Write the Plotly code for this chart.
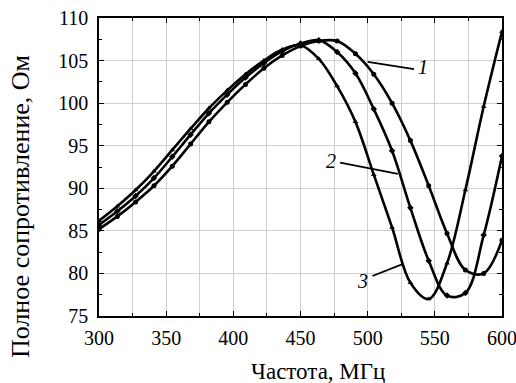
import plotly.graph_objects as go

freq = [300.0, 313.64, 327.27, 340.91, 354.55, 368.18, 381.82, 395.45, 409.09, 422.73,
        436.36, 450.0, 463.64, 477.27, 490.91, 504.55, 518.18, 531.82, 545.45, 559.09,
        572.73, 586.36, 600.0]

z1 = [85.2, 86.7, 88.4, 90.3, 92.6, 95.2, 97.8, 100.1, 102.2, 104.1,
      105.6, 106.7, 107.3, 107.3, 105.8, 103.4, 100.0, 95.6, 90.3, 84.7,
      80.4, 80.0, 83.9]
z2 = [85.7, 87.3, 89.1, 91.2, 93.7, 96.3, 98.8, 101.0, 103.0, 104.7,
      106.1, 107.0, 107.4, 106.0, 103.5, 99.3, 94.4, 87.7, 81.5, 77.4,
      77.7, 84.5, 93.8]
z3 = [86.2, 87.9, 89.8, 92.0, 94.5, 97.0, 99.4, 101.5, 103.4, 105.0,
      106.3, 106.8, 105.2, 102.0, 97.8, 91.6, 85.4, 78.9, 77.0, 81.2,
      89.8, 99.6, 108.4]

curve_labels = ["1", "2", "3"]
x_ticks = [300, 350, 400, 450, 500, 550, 600]
y_ticks = [75, 80, 85, 90, 95, 100, 105, 110]
x_title = "Частота, МГц"
y_title = "Полное сопротивление, Ом"

FONT = "'Liberation Serif', 'Times New Roman', 'DejaVu Serif', serif"

fig = go.Figure()
for ys, sym in [(z1, "circle"), (z2, "diamond"), (z3, "triangle-up")]:
    fig.add_trace(go.Scatter(
        x=freq, y=ys, mode="lines+markers",
        line=dict(color="black", width=2.6, shape="spline", smoothing=1.0),
        marker=dict(color="black", size=5, symbol=sym),
        showlegend=False,
    ))

lab_font = dict(size=20, family=FONT, color="black")
# label "1"
fig.add_shape(type="line", x0=500, y0=104.85, x1=534.5, y1=104.0,
              line=dict(color="black", width=1.8), xref="x", yref="y")
fig.add_annotation(x=536, y=104.2, text="<i>" + curve_labels[0] + "</i>", showarrow=False,
                   xanchor="left", yanchor="middle", font=lab_font)
# label "2"
fig.add_shape(type="line", x0=479.5, y0=93.0, x1=522.5, y1=91.7,
              line=dict(color="black", width=1.8), xref="x", yref="y")
fig.add_annotation(x=478, y=93.2, text="<i>" + curve_labels[1] + "</i>", showarrow=False,
                   xanchor="right", yanchor="middle", font=lab_font)
# label "3"
fig.add_shape(type="line", x0=503.5, y0=79.7, x1=526, y1=81.1,
              line=dict(color="black", width=1.8), xref="x", yref="y")
fig.add_annotation(x=501.5, y=79.1, text="<i>" + curve_labels[2] + "</i>", showarrow=False,
                   xanchor="right", yanchor="middle", font=lab_font)

# axis titles placed as annotations (offset from centre as in the reference)
fig.add_annotation(text=x_title, xref="paper", yref="paper", x=0.544, y=-0.186,
                   showarrow=False, xanchor="center", yanchor="middle",
                   font=dict(size=23, family=FONT, color="black"))
fig.add_annotation(text=y_title, xref="paper", yref="paper", x=-0.195, y=0.367,
                   showarrow=False, xanchor="center", yanchor="middle", textangle=-90,
                   font=dict(size=26, family=FONT, color="black"))

axis_common = dict(
    showline=True, linecolor="black", linewidth=1.5, mirror="ticks",
    ticks="inside", ticklen=5, tickwidth=1.2, tickcolor="black",
    showgrid=True, gridcolor="#cfcfcf", gridwidth=1, zeroline=False,
    tickfont=dict(size=20, family=FONT, color="black"),
    ticklabeloverflow="allow", automargin=False,
)

fig.update_xaxes(
    range=[300, 600], tickvals=x_ticks, ticktext=[str(v) for v in x_ticks],
    minor=dict(dtick=25, tick0=300, ticks="inside", ticklen=3, tickcolor="black",
               showgrid=True, gridcolor="#cfcfcf", gridwidth=1),
    ticklabelstandoff=3,
    **axis_common,
)
fig.update_yaxes(
    range=[75, 110], tickvals=y_ticks, ticktext=[str(v) for v in y_ticks],
    minor=dict(dtick=2.5, tick0=75, ticks="inside", ticklen=3, tickcolor="black", showgrid=False),
    ticklabelstandoff=5,
    **axis_common,
)

fig.update_layout(
    width=516, height=383,
    margin=dict(l=98.5, r=14.3, t=18, b=66.5),
    paper_bgcolor="white", plot_bgcolor="white",
    font=dict(family=FONT, color="black"),
)

fig.write_html("out.html")
